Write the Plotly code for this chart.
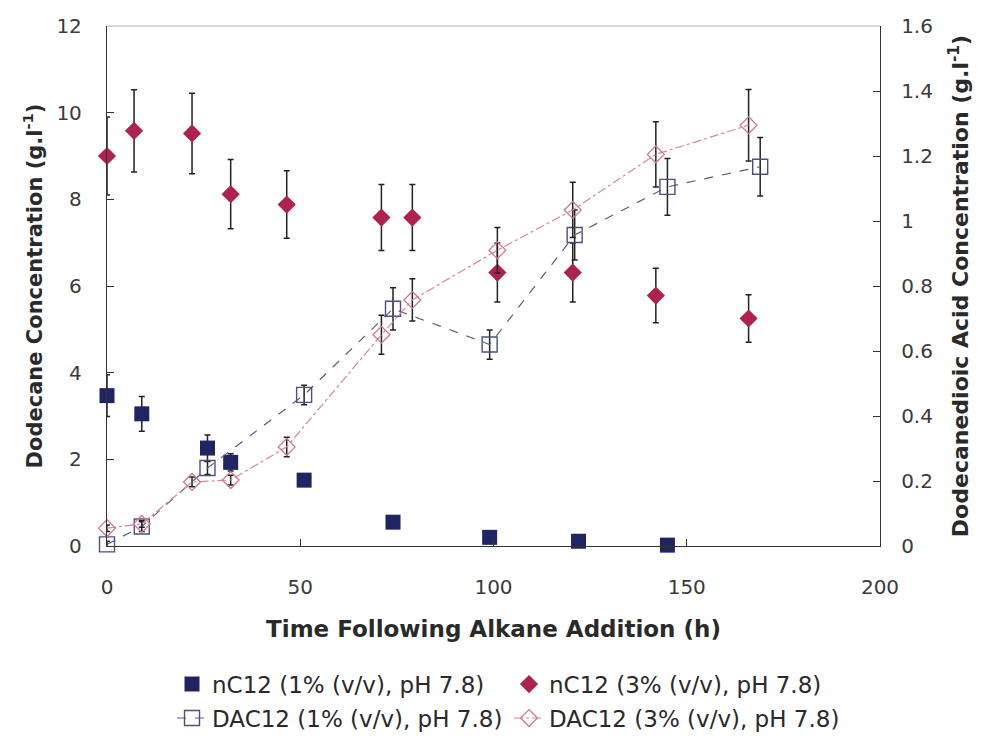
import plotly.graph_objects as go

# Residual dodecane (nC12) in the broth, left axis, g/l
nc12_1_time = [0, 9, 26, 32, 51, 74, 99, 122, 145]
nc12_1_conc = [3.47, 3.05, 2.26, 1.93, 1.52, 0.55, 0.20, 0.11, 0.02]
nc12_1_err = [0.48, 0.40, 0.30, 0.20, 0.10, 0.05, 0.03, 0.02, 0.02]

nc12_3_time = [0, 7, 22, 32, 46.5, 71, 79, 101, 120.5, 142, 166]
nc12_3_conc = [9.00, 9.58, 9.52, 8.12, 7.88, 7.58, 7.58, 6.31, 6.31, 5.78, 5.25]
nc12_3_err = [0.90, 0.95, 0.93, 0.80, 0.78, 0.76, 0.76, 0.68, 0.68, 0.63, 0.55]

# Dodecanedioic acid (DAC12) produced, right axis, g/l
dac12_1_time = [0, 9, 26, 51, 74, 99, 121, 145, 169]
dac12_1_conc = [0.005, 0.06, 0.24, 0.465, 0.73, 0.62, 0.957, 1.105, 1.167]
dac12_1_err = [0.01, 0.015, 0.02, 0.03, 0.065, 0.045, 0.077, 0.087, 0.09]

dac12_3_time = [0, 9, 22, 32, 46.5, 71, 79, 101, 120.5, 142, 166]
dac12_3_conc = [0.055, 0.068, 0.197, 0.203, 0.305, 0.65, 0.757, 0.91, 1.034, 1.205, 1.295]
dac12_3_err = [0.01, 0.01, 0.015, 0.015, 0.03, 0.06, 0.065, 0.07, 0.085, 0.10, 0.11]

x_ticks = [0, 50, 100, 150, 200]
left_ticks = [0, 2, 4, 6, 8, 10, 12]
right_ticks = [0, 0.2, 0.4, 0.6, 0.8, 1.0, 1.2, 1.4, 1.6]

FONT = "DejaVu Sans"
TXT = "#2a2a2a"
AX = "#333333"
NAVY = "#1f2563"
CRIMSON = "#b0224e"

def err(vals):
    return dict(type="data", array=vals, visible=True, color="#222222",
                thickness=1.5, width=3)

fig = go.Figure()

fig.add_trace(go.Scatter(
    x=dac12_1_time, y=dac12_1_conc, yaxis="y2", mode="lines+markers",
    name="DAC12 (1% (v/v), pH 7.8)", legend="legend2", cliponaxis=False,
    line=dict(color="#5a5e80", width=1.2, dash="dash"),
    marker=dict(symbol="square-open", size=15, color="#4b5080",
                line=dict(width=1.4)),
    error_y=err(dac12_1_err)))

fig.add_trace(go.Scatter(
    x=dac12_3_time, y=dac12_3_conc, yaxis="y2", mode="lines+markers",
    name="DAC12 (3% (v/v), pH 7.8)", legend="legend2", cliponaxis=False,
    line=dict(color="#d8869b", width=1.2, dash="dashdot"),
    marker=dict(symbol="diamond-open", size=13, color="#d27890",
                line=dict(width=1.3)),
    error_y=err(dac12_3_err)))

fig.add_trace(go.Scatter(
    x=nc12_1_time, y=nc12_1_conc, mode="markers",
    name="nC12 (1% (v/v), pH 7.8)", legend="legend", cliponaxis=False,
    marker=dict(symbol="square", size=15, color=NAVY),
    error_y=err(nc12_1_err)))

fig.add_trace(go.Scatter(
    x=nc12_3_time, y=nc12_3_conc, mode="markers",
    name="nC12 (3% (v/v), pH 7.8)", legend="legend", cliponaxis=False,
    marker=dict(symbol="diamond", size=14, color=CRIMSON),
    error_y=err(nc12_3_err)))

# light frame along the top of the plot area
fig.add_shape(type="line", xref="paper", yref="paper", x0=0, x1=1, y0=1, y1=1,
              line=dict(color="#c8c8c8", width=1.5))

legend_common = dict(orientation="h", xanchor="left", yanchor="middle",
                     xref="container", yref="container",
                     entrywidth=292, entrywidthmode="pixels",
                     font=dict(family=FONT, size=23, color=TXT),
                     bgcolor="rgba(0,0,0,0)", traceorder="normal")

fig.update_layout(
    width=996, height=738,
    margin=dict(l=107, r=116, t=26, b=192, autoexpand=False),
    paper_bgcolor="white", plot_bgcolor="white",
    font=dict(family=FONT, color=TXT),
    showlegend=True,
    legend=dict(x=0.1727, y=0.073, **legend_common),
    legend2=dict(x=0.1727, y=0.027, **legend_common),
    xaxis=dict(
        range=[0, 200], tickvals=x_ticks, showgrid=False, zeroline=False,
        showline=True, linecolor=AX, linewidth=1.3,
        ticks="inside", ticklen=7, tickcolor=AX, ticklabelstandoff=23,
        tickfont=dict(family=FONT, size=20, color="#3a3a3a"),
        title=dict(text="<b>Time Following Alkane Addition (h)</b>", standoff=22,
                   font=dict(family=FONT, size=23, color=TXT)),
    ),
    yaxis=dict(
        range=[0, 12], tickvals=left_ticks, showgrid=False, zeroline=False,
        showline=True, linecolor=AX, linewidth=1.3,
        ticks="inside", ticklen=7, tickcolor=AX, ticklabelstandoff=20,
        tickfont=dict(family=FONT, size=20, color="#3a3a3a"),
        title=dict(text="<b>Dodecane Concentration (g.l<sup>-1</sup>)</b>", standoff=8,
                   font=dict(family=FONT, size=21, color=TXT)),
    ),
    yaxis2=dict(
        range=[0, 1.6], tickvals=right_ticks,
        overlaying="y", side="right", anchor="x",
        showgrid=False, zeroline=False,
        showline=True, linecolor=AX, linewidth=1.3,
        ticks="inside", ticklen=7, tickcolor=AX, ticklabelstandoff=16,
        tickfont=dict(family=FONT, size=20, color="#3a3a3a"),
        title=dict(text="<b>Dodecanedioic Acid Concentration (g.l<sup>-1</sup>)</b>", standoff=20,
                   font=dict(family=FONT, size=22, color=TXT)),
    ),
)

fig.write_html("out.html")
